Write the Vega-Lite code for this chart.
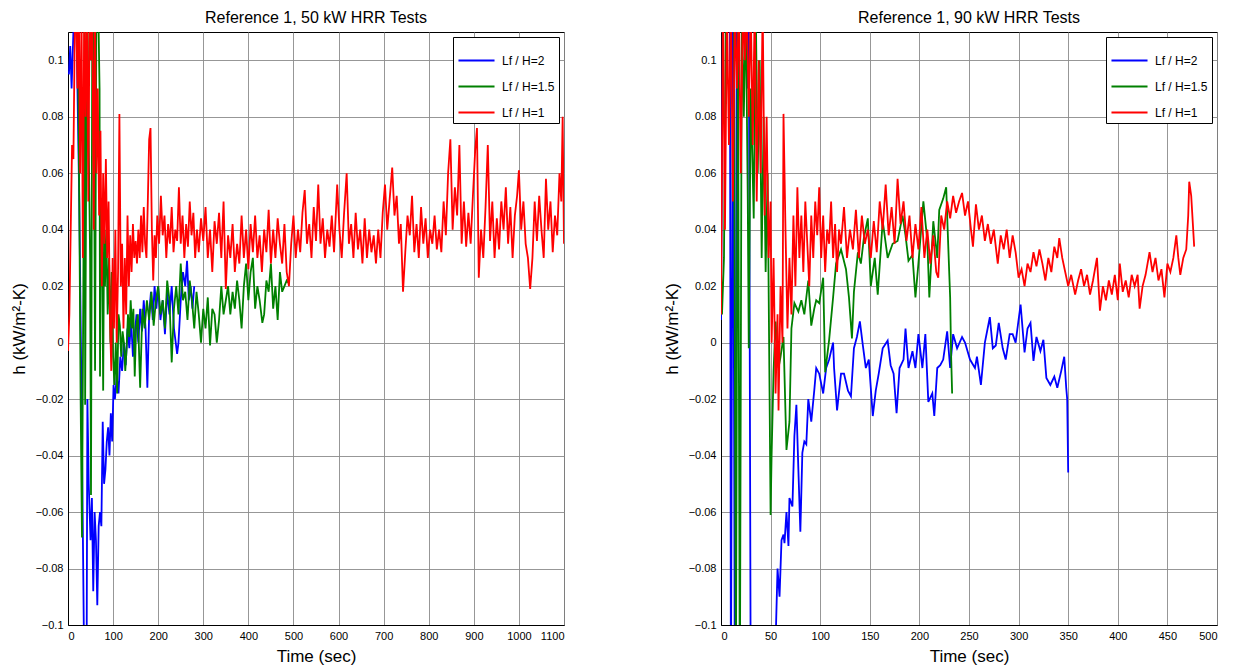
{
"$schema":"https://vega.github.io/schema/vega-lite/v6.json",
"padding":{"left":9,"top":9,"right":5,"bottom":5},
"background":"white",
"config":{
"font":"Liberation Sans",
"view":{"stroke":"black","strokeWidth":1},
"axis":{"domainColor":"black","gridColor":"#8c8c8c","gridOpacity":0.9,"labelColor":"black","titleColor":"black","labelFontSize":11,"titleFontSize":17,"titleFontWeight":"normal","tickSize":0,"labelPadding":5,"titlePadding":7},
"title":{"fontSize":16,"fontWeight":"normal","color":"black","offset":6},
"legend":{"orient":"top-right","offset":5,"fillColor":"white","strokeColor":"black","padding":4,"symbolType":"stroke","symbolSize":1300,"symbolStrokeWidth":2,"labelFontSize":12,"labelColor":"black","rowPadding":-24,"labelOffset":6,"title":null}
},
"datasets":{
"left":[
{"H":"2","t":2,"h":0.095},{"H":"2","t":5,"h":0.105},{"H":"2","t":8,"h":0.09},{"H":"2","t":12,"h":0.11},{"H":"2","t":18,"h":0.12},{"H":"2","t":25,"h":0.05},{"H":"2","t":30,"h":-0.02},{"H":"2","t":35,"h":-0.1},{"H":"2","t":38,"h":-0.13},{"H":"2","t":41,"h":-0.13},{"H":"2","t":43,"h":-0.02},{"H":"2","t":46,"h":-0.05},{"H":"2","t":50,"h":-0.07},{"H":"2","t":53,"h":-0.055},{"H":"2","t":56,"h":-0.088},{"H":"2","t":59,"h":-0.06},{"H":"2","t":62,"h":-0.07},{"H":"2","t":65,"h":-0.093},{"H":"2","t":68,"h":-0.065},{"H":"2","t":71,"h":-0.06},{"H":"2","t":74,"h":-0.065},{"H":"2","t":77,"h":-0.028},{"H":"2","t":80,"h":-0.05},{"H":"2","t":83,"h":-0.045},{"H":"2","t":86,"h":-0.035},{"H":"2","t":89,"h":-0.03},{"H":"2","t":92,"h":-0.04},{"H":"2","t":95,"h":-0.025},{"H":"2","t":98,"h":-0.035},{"H":"2","t":101,"h":-0.015},{"H":"2","t":104,"h":-0.02},{"H":"2","t":108,"h":-0.012},{"H":"2","t":112,"h":-0.018},{"H":"2","t":116,"h":-0.005},{"H":"2","t":120,"h":-0.01},{"H":"2","t":124,"h":0.0},{"H":"2","t":128,"h":-0.008},{"H":"2","t":132,"h":0.005},{"H":"2","t":136,"h":-0.002},{"H":"2","t":140,"h":0.008},{"H":"2","t":144,"h":-0.005},{"H":"2","t":148,"h":0.003},{"H":"2","t":152,"h":0.01},{"H":"2","t":156,"h":0.0},{"H":"2","t":160,"h":0.012},{"H":"2","t":164,"h":0.004},{"H":"2","t":168,"h":0.015},{"H":"2","t":172,"h":0.005},{"H":"2","t":176,"h":-0.016},{"H":"2","t":180,"h":0.01},{"H":"2","t":184,"h":0.018},{"H":"2","t":188,"h":0.008},{"H":"2","t":192,"h":0.02},{"H":"2","t":196,"h":0.012},{"H":"2","t":200,"h":0.02},{"H":"2","t":205,"h":0.008},{"H":"2","t":210,"h":0.015},{"H":"2","t":215,"h":0.003},{"H":"2","t":220,"h":0.018},{"H":"2","t":225,"h":0.01},{"H":"2","t":230,"h":0.02},{"H":"2","t":235,"h":0.005},{"H":"2","t":242,"h":-0.004},{"H":"2","t":245,"h":0.0},{"H":"2","t":250,"h":0.015},{"H":"2","t":255,"h":0.025},{"H":"2","t":260,"h":0.02},{"H":"2","t":264,"h":0.029},{"H":"2","t":268,"h":0.015},{"H":"2","t":272,"h":0.02},{"H":"2","t":276,"h":0.012},{"H":"2","t":280,"h":0.02},
{"H":"1.5","t":22,"h":0.11},{"H":"1.5","t":25,"h":0.05},{"H":"1.5","t":28,"h":-0.02},{"H":"1.5","t":31,"h":-0.069},{"H":"1.5","t":34,"h":0.02},{"H":"1.5","t":37,"h":0.12},{"H":"1.5","t":38,"h":-0.022},{"H":"1.5","t":40,"h":0.05},{"H":"1.5","t":43,"h":0.12},{"H":"1.5","t":46,"h":0.07},{"H":"1.5","t":49,"h":0.03},{"H":"1.5","t":51,"h":-0.054},{"H":"1.5","t":54,"h":0.12},{"H":"1.5","t":57,"h":0.1},{"H":"1.5","t":60,"h":-0.01},{"H":"1.5","t":63,"h":0.12},{"H":"1.5","t":67,"h":0.12},{"H":"1.5","t":70,"h":0.09},{"H":"1.5","t":71,"h":-0.012},{"H":"1.5","t":73,"h":0.05},{"H":"1.5","t":76,"h":0.03},{"H":"1.5","t":78,"h":-0.017},{"H":"1.5","t":80,"h":0.04},{"H":"1.5","t":82,"h":0.02},{"H":"1.5","t":85,"h":0.04},{"H":"1.5","t":88,"h":0.01},{"H":"1.5","t":91,"h":0.03},{"H":"1.5","t":94,"h":0.0},{"H":"1.5","t":97,"h":0.025},{"H":"1.5","t":100,"h":-0.005},{"H":"1.5","t":103,"h":-0.015},{"H":"1.5","t":106,"h":0.0},{"H":"1.5","t":109,"h":-0.018},{"H":"1.5","t":112,"h":0.01},{"H":"1.5","t":115,"h":0.006},{"H":"1.5","t":118,"h":-0.005},{"H":"1.5","t":121,"h":0.004},{"H":"1.5","t":124,"h":0.0},{"H":"1.5","t":127,"h":-0.01},{"H":"1.5","t":130,"h":-0.002},{"H":"1.5","t":133,"h":0.01},{"H":"1.5","t":136,"h":0.002},{"H":"1.5","t":139,"h":0.015},{"H":"1.5","t":142,"h":0.005},{"H":"1.5","t":145,"h":0.012},{"H":"1.5","t":148,"h":-0.012},{"H":"1.5","t":151,"h":0.005},{"H":"1.5","t":155,"h":0.01},{"H":"1.5","t":160,"h":-0.016},{"H":"1.5","t":165,"h":0.012},{"H":"1.5","t":170,"h":0.005},{"H":"1.5","t":175,"h":0.015},{"H":"1.5","t":180,"h":0.008},{"H":"1.5","t":185,"h":0.018},{"H":"1.5","t":190,"h":0.006},{"H":"1.5","t":195,"h":0.015},{"H":"1.5","t":200,"h":0.02},{"H":"1.5","t":205,"h":0.01},{"H":"1.5","t":210,"h":0.015},{"H":"1.5","t":215,"h":0.005},{"H":"1.5","t":220,"h":0.022},{"H":"1.5","t":225,"h":0.015},{"H":"1.5","t":230,"h":-0.007},{"H":"1.5","t":235,"h":0.012},{"H":"1.5","t":240,"h":0.02},{"H":"1.5","t":245,"h":0.01},{"H":"1.5","t":250,"h":0.028},{"H":"1.5","t":255,"h":0.015},{"H":"1.5","t":260,"h":0.018},{"H":"1.5","t":265,"h":0.008},{"H":"1.5","t":270,"h":0.022},{"H":"1.5","t":275,"h":0.015},{"H":"1.5","t":280,"h":0.005},{"H":"1.5","t":285,"h":0.018},{"H":"1.5","t":290,"h":0.01},{"H":"1.5","t":295,"h":0.0},{"H":"1.5","t":300,"h":0.012},{"H":"1.5","t":305,"h":0.005},{"H":"1.5","t":310,"h":0.016},{"H":"1.5","t":315,"h":-0.001},{"H":"1.5","t":320,"h":0.012},{"H":"1.5","t":325,"h":0.01},{"H":"1.5","t":330,"h":0.0},{"H":"1.5","t":335,"h":0.008},{"H":"1.5","t":340,"h":0.02},{"H":"1.5","t":345,"h":0.01},{"H":"1.5","t":350,"h":0.015},{"H":"1.5","t":355,"h":0.02},{"H":"1.5","t":360,"h":0.01},{"H":"1.5","t":365,"h":0.018},{"H":"1.5","t":370,"h":0.012},{"H":"1.5","t":375,"h":0.022},{"H":"1.5","t":380,"h":0.015},{"H":"1.5","t":385,"h":0.005},{"H":"1.5","t":390,"h":0.02},{"H":"1.5","t":395,"h":0.028},{"H":"1.5","t":400,"h":0.015},{"H":"1.5","t":405,"h":0.025},{"H":"1.5","t":410,"h":0.03},{"H":"1.5","t":415,"h":0.012},{"H":"1.5","t":420,"h":0.02},{"H":"1.5","t":425,"h":0.015},{"H":"1.5","t":431,"h":0.007},{"H":"1.5","t":435,"h":0.01},{"H":"1.5","t":440,"h":0.022},{"H":"1.5","t":445,"h":0.018},{"H":"1.5","t":450,"h":0.028},{"H":"1.5","t":455,"h":0.012},{"H":"1.5","t":460,"h":0.02},{"H":"1.5","t":465,"h":0.008},{"H":"1.5","t":470,"h":0.025},{"H":"1.5","t":475,"h":0.018},{"H":"1.5","t":480,"h":0.02},{"H":"1.5","t":485,"h":0.022},{"H":"1.5","t":490,"h":0.021},
{"H":"1","t":0,"h":-0.003},{"H":"1","t":3,"h":0.01},{"H":"1","t":6,"h":0.04},{"H":"1","t":9,"h":0.07},{"H":"1","t":12,"h":0.065},{"H":"1","t":15,"h":0.11},{"H":"1","t":18,"h":0.12},{"H":"1","t":21,"h":0.09},{"H":"1","t":24,"h":0.12},{"H":"1","t":27,"h":0.06},{"H":"1","t":30,"h":0.12},{"H":"1","t":33,"h":0.03},{"H":"1","t":36,"h":0.12},{"H":"1","t":39,"h":0.08},{"H":"1","t":42,"h":0.12},{"H":"1","t":45,"h":0.05},{"H":"1","t":48,"h":0.12},{"H":"1","t":51,"h":0.1},{"H":"1","t":54,"h":0.12},{"H":"1","t":57,"h":0.04},{"H":"1","t":60,"h":0.115},{"H":"1","t":63,"h":0.06},{"H":"1","t":66,"h":0.09},{"H":"1","t":69,"h":0.045},{"H":"1","t":72,"h":0.075},{"H":"1","t":75,"h":0.02},{"H":"1","t":78,"h":0.06},{"H":"1","t":81,"h":0.035},{"H":"1","t":84,"h":0.065},{"H":"1","t":87,"h":0.03},{"H":"1","t":90,"h":0.05},{"H":"1","t":93,"h":0.01},{"H":"1","t":96,"h":-0.01},{"H":"1","t":99,"h":0.03},{"H":"1","t":102,"h":0.005},{"H":"1","t":105,"h":0.04},{"H":"1","t":108,"h":0.0},{"H":"1","t":111,"h":0.025},{"H":"1","t":114,"h":0.081},{"H":"1","t":117,"h":0.02},{"H":"1","t":120,"h":0.035},{"H":"1","t":123,"h":0.005},{"H":"1","t":126,"h":0.03},{"H":"1","t":129,"h":0.01},{"H":"1","t":132,"h":0.045},{"H":"1","t":135,"h":0.02},{"H":"1","t":138,"h":0.038},{"H":"1","t":141,"h":0.025},{"H":"1","t":144,"h":0.042},{"H":"1","t":147,"h":0.03},{"H":"1","t":150,"h":0.036},{"H":"1","t":153,"h":0.028},{"H":"1","t":156,"h":0.04},{"H":"1","t":159,"h":0.03},{"H":"1","t":162,"h":0.045},{"H":"1","t":165,"h":0.032},{"H":"1","t":168,"h":0.048},{"H":"1","t":171,"h":0.035},{"H":"1","t":174,"h":0.03},{"H":"1","t":177,"h":0.05},{"H":"1","t":180,"h":0.072},{"H":"1","t":183,"h":0.076},{"H":"1","t":186,"h":0.04},{"H":"1","t":189,"h":0.022},{"H":"1","t":192,"h":0.038},{"H":"1","t":195,"h":0.03},{"H":"1","t":198,"h":0.045},{"H":"1","t":202,"h":0.035},{"H":"1","t":206,"h":0.052},{"H":"1","t":210,"h":0.038},{"H":"1","t":214,"h":0.045},{"H":"1","t":218,"h":0.03},{"H":"1","t":222,"h":0.042},{"H":"1","t":226,"h":0.035},{"H":"1","t":230,"h":0.048},{"H":"1","t":234,"h":0.032},{"H":"1","t":238,"h":0.04},{"H":"1","t":242,"h":0.036},{"H":"1","t":246,"h":0.055},{"H":"1","t":250,"h":0.035},{"H":"1","t":254,"h":0.045},{"H":"1","t":258,"h":0.03},{"H":"1","t":262,"h":0.042},{"H":"1","t":266,"h":0.034},{"H":"1","t":270,"h":0.05},{"H":"1","t":274,"h":0.038},{"H":"1","t":278,"h":0.046},{"H":"1","t":282,"h":0.03},{"H":"1","t":286,"h":0.04},{"H":"1","t":290,"h":0.032},{"H":"1","t":295,"h":0.044},{"H":"1","t":300,"h":0.036},{"H":"1","t":305,"h":0.048},{"H":"1","t":310,"h":0.03},{"H":"1","t":315,"h":0.04},{"H":"1","t":320,"h":0.025},{"H":"1","t":325,"h":0.043},{"H":"1","t":330,"h":0.035},{"H":"1","t":335,"h":0.046},{"H":"1","t":340,"h":0.03},{"H":"1","t":345,"h":0.05},{"H":"1","t":350,"h":0.019},{"H":"1","t":355,"h":0.038},{"H":"1","t":360,"h":0.03},{"H":"1","t":365,"h":0.042},{"H":"1","t":370,"h":0.025},{"H":"1","t":375,"h":0.035},{"H":"1","t":380,"h":0.028},{"H":"1","t":385,"h":0.045},{"H":"1","t":390,"h":0.03},{"H":"1","t":395,"h":0.04},{"H":"1","t":400,"h":0.026},{"H":"1","t":405,"h":0.042},{"H":"1","t":410,"h":0.032},{"H":"1","t":415,"h":0.045},{"H":"1","t":420,"h":0.03},{"H":"1","t":425,"h":0.038},{"H":"1","t":430,"h":0.025},{"H":"1","t":435,"h":0.04},{"H":"1","t":440,"h":0.032},{"H":"1","t":445,"h":0.047},{"H":"1","t":450,"h":0.028},{"H":"1","t":455,"h":0.04},{"H":"1","t":460,"h":0.03},{"H":"1","t":465,"h":0.044},{"H":"1","t":470,"h":0.035},{"H":"1","t":475,"h":0.028},{"H":"1","t":480,"h":0.042},{"H":"1","t":485,"h":0.025},{"H":"1","t":490,"h":0.02},{"H":"1","t":495,"h":0.035},{"H":"1","t":500,"h":0.045},{"H":"1","t":505,"h":0.03},{"H":"1","t":510,"h":0.04},{"H":"1","t":515,"h":0.032},{"H":"1","t":520,"h":0.046},{"H":"1","t":525,"h":0.054},{"H":"1","t":530,"h":0.035},{"H":"1","t":535,"h":0.042},{"H":"1","t":540,"h":0.03},{"H":"1","t":545,"h":0.048},{"H":"1","t":550,"h":0.036},{"H":"1","t":555,"h":0.056},{"H":"1","t":560,"h":0.035},{"H":"1","t":565,"h":0.044},{"H":"1","t":570,"h":0.03},{"H":"1","t":575,"h":0.04},{"H":"1","t":580,"h":0.034},{"H":"1","t":585,"h":0.045},{"H":"1","t":590,"h":0.032},{"H":"1","t":597,"h":0.056},{"H":"1","t":602,"h":0.04},{"H":"1","t":607,"h":0.03},{"H":"1","t":612,"h":0.045},{"H":"1","t":618,"h":0.06},{"H":"1","t":623,"h":0.035},{"H":"1","t":628,"h":0.042},{"H":"1","t":633,"h":0.03},{"H":"1","t":638,"h":0.046},{"H":"1","t":643,"h":0.033},{"H":"1","t":648,"h":0.04},{"H":"1","t":653,"h":0.028},{"H":"1","t":658,"h":0.044},{"H":"1","t":663,"h":0.03},{"H":"1","t":668,"h":0.04},{"H":"1","t":673,"h":0.032},{"H":"1","t":678,"h":0.038},{"H":"1","t":683,"h":0.028},{"H":"1","t":688,"h":0.04},{"H":"1","t":693,"h":0.03},{"H":"1","t":698,"h":0.046},{"H":"1","t":703,"h":0.056},{"H":"1","t":708,"h":0.04},{"H":"1","t":713,"h":0.05},{"H":"1","t":719,"h":0.062},{"H":"1","t":724,"h":0.045},{"H":"1","t":729,"h":0.052},{"H":"1","t":734,"h":0.035},{"H":"1","t":738,"h":0.042},{"H":"1","t":743,"h":0.018},{"H":"1","t":748,"h":0.032},{"H":"1","t":753,"h":0.045},{"H":"1","t":758,"h":0.038},{"H":"1","t":763,"h":0.052},{"H":"1","t":768,"h":0.032},{"H":"1","t":773,"h":0.042},{"H":"1","t":778,"h":0.03},{"H":"1","t":783,"h":0.048},{"H":"1","t":788,"h":0.035},{"H":"1","t":793,"h":0.044},{"H":"1","t":798,"h":0.03},{"H":"1","t":803,"h":0.04},{"H":"1","t":808,"h":0.035},{"H":"1","t":813,"h":0.045},{"H":"1","t":818,"h":0.033},{"H":"1","t":823,"h":0.04},{"H":"1","t":828,"h":0.032},{"H":"1","t":833,"h":0.05},{"H":"1","t":838,"h":0.038},{"H":"1","t":843,"h":0.06},{"H":"1","t":848,"h":0.072},{"H":"1","t":853,"h":0.04},{"H":"1","t":858,"h":0.055},{"H":"1","t":863,"h":0.045},{"H":"1","t":868,"h":0.07},{"H":"1","t":873,"h":0.035},{"H":"1","t":878,"h":0.05},{"H":"1","t":883,"h":0.034},{"H":"1","t":888,"h":0.046},{"H":"1","t":893,"h":0.035},{"H":"1","t":898,"h":0.052},{"H":"1","t":903,"h":0.068},{"H":"1","t":907,"h":0.076},{"H":"1","t":911,"h":0.023},{"H":"1","t":916,"h":0.04},{"H":"1","t":921,"h":0.03},{"H":"1","t":926,"h":0.048},{"H":"1","t":931,"h":0.07},{"H":"1","t":936,"h":0.036},{"H":"1","t":941,"h":0.05},{"H":"1","t":946,"h":0.03},{"H":"1","t":951,"h":0.044},{"H":"1","t":956,"h":0.033},{"H":"1","t":961,"h":0.05},{"H":"1","t":966,"h":0.04},{"H":"1","t":971,"h":0.055},{"H":"1","t":976,"h":0.035},{"H":"1","t":981,"h":0.048},{"H":"1","t":986,"h":0.03},{"H":"1","t":991,"h":0.045},{"H":"1","t":996,"h":0.052},{"H":"1","t":1000,"h":0.061},{"H":"1","t":1005,"h":0.04},{"H":"1","t":1010,"h":0.05},{"H":"1","t":1015,"h":0.035},{"H":"1","t":1020,"h":0.03},{"H":"1","t":1025,"h":0.019},{"H":"1","t":1030,"h":0.03},{"H":"1","t":1035,"h":0.05},{"H":"1","t":1040,"h":0.036},{"H":"1","t":1045,"h":0.052},{"H":"1","t":1050,"h":0.04},{"H":"1","t":1055,"h":0.03},{"H":"1","t":1060,"h":0.058},{"H":"1","t":1065,"h":0.04},{"H":"1","t":1070,"h":0.05},{"H":"1","t":1075,"h":0.032},{"H":"1","t":1080,"h":0.045},{"H":"1","t":1085,"h":0.038},{"H":"1","t":1090,"h":0.06},{"H":"1","t":1094,"h":0.05},{"H":"1","t":1097,"h":0.08},{"H":"1","t":1100,"h":0.035}
],
"right":[
{"H":"2","t":0,"h":0.008},{"H":"2","t":2,"h":0.12},{"H":"2","t":9,"h":0.12},{"H":"2","t":10,"h":-0.13},{"H":"2","t":12,"h":0.12},{"H":"2","t":14,"h":-0.13},{"H":"2","t":16,"h":0.12},{"H":"2","t":26,"h":0.12},{"H":"2","t":27,"h":0.09},{"H":"2","t":28,"h":0.12},{"H":"2","t":30,"h":-0.13},{"H":"2","t":55,"h":-0.13},{"H":"2","t":55.5,"h":-0.1},{"H":"2","t":57,"h":-0.08},{"H":"2","t":59,"h":-0.09},{"H":"2","t":61,"h":-0.07},{"H":"2","t":63,"h":-0.068},{"H":"2","t":64,"h":-0.071},{"H":"2","t":66,"h":-0.06},{"H":"2","t":68,"h":-0.072},{"H":"2","t":69,"h":-0.055},{"H":"2","t":72,"h":-0.058},{"H":"2","t":74,"h":-0.033},{"H":"2","t":76,"h":-0.022},{"H":"2","t":78,"h":-0.045},{"H":"2","t":80,"h":-0.067},{"H":"2","t":82,"h":-0.039},{"H":"2","t":84,"h":-0.035},{"H":"2","t":86,"h":-0.036},{"H":"2","t":88,"h":-0.02},{"H":"2","t":91,"h":-0.028},{"H":"2","t":94,"h":-0.017},{"H":"2","t":96,"h":-0.009},{"H":"2","t":99,"h":-0.011},{"H":"2","t":103,"h":-0.018},{"H":"2","t":106,"h":-0.009},{"H":"2","t":109,"h":-0.006},{"H":"2","t":113,"h":0.0},{"H":"2","t":114,"h":-0.009},{"H":"2","t":117,"h":-0.024},{"H":"2","t":121,"h":-0.011},{"H":"2","t":124,"h":-0.011},{"H":"2","t":128,"h":-0.017},{"H":"2","t":131,"h":-0.019},{"H":"2","t":134,"h":-0.002},{"H":"2","t":137,"h":0.002},{"H":"2","t":140,"h":0.0075},{"H":"2","t":143,"h":-0.001},{"H":"2","t":146,"h":-0.009},{"H":"2","t":149,"h":-0.006},{"H":"2","t":153,"h":-0.026},{"H":"2","t":156,"h":-0.017},{"H":"2","t":159,"h":-0.011},{"H":"2","t":163,"h":-0.002},{"H":"2","t":168,"h":0.0007},{"H":"2","t":171,"h":-0.008},{"H":"2","t":174,"h":-0.011},{"H":"2","t":177,"h":-0.025},{"H":"2","t":180,"h":-0.009},{"H":"2","t":184,"h":-0.006},{"H":"2","t":186,"h":0.005},{"H":"2","t":189,"h":-0.009},{"H":"2","t":193,"h":-0.003},{"H":"2","t":196,"h":-0.009},{"H":"2","t":199,"h":0.003},{"H":"2","t":203,"h":-0.009},{"H":"2","t":206,"h":0.003},{"H":"2","t":209,"h":-0.021},{"H":"2","t":213,"h":-0.018},{"H":"2","t":215,"h":-0.026},{"H":"2","t":218,"h":-0.009},{"H":"2","t":221,"h":-0.008},{"H":"2","t":224,"h":-0.006},{"H":"2","t":228,"h":0.004},{"H":"2","t":231,"h":-0.009},{"H":"2","t":234,"h":0.003},{"H":"2","t":238,"h":-0.002},{"H":"2","t":243,"h":0.002},{"H":"2","t":246,"h":0.0},{"H":"2","t":251,"h":-0.006},{"H":"2","t":256,"h":-0.009},{"H":"2","t":258,"h":-0.005},{"H":"2","t":262,"h":-0.015},{"H":"2","t":266,"h":0.0},{"H":"2","t":271,"h":0.009},{"H":"2","t":274,"h":-0.002},{"H":"2","t":277,"h":-0.001},{"H":"2","t":280,"h":0.007},{"H":"2","t":284,"h":-0.002},{"H":"2","t":287,"h":-0.006},{"H":"2","t":291,"h":0.003},{"H":"2","t":294,"h":0.003},{"H":"2","t":297,"h":0.0},{"H":"2","t":302,"h":0.0135},{"H":"2","t":306,"h":-0.0035},{"H":"2","t":309,"h":0.005},{"H":"2","t":312,"h":0.007},{"H":"2","t":315,"h":-0.0065},{"H":"2","t":318,"h":0.002},{"H":"2","t":322,"h":-0.003},{"H":"2","t":325,"h":0.001},{"H":"2","t":328,"h":-0.0125},{"H":"2","t":332,"h":-0.015},{"H":"2","t":336,"h":-0.012},{"H":"2","t":339,"h":-0.016},{"H":"2","t":343,"h":-0.01},{"H":"2","t":346,"h":-0.005},{"H":"2","t":348,"h":-0.016},{"H":"2","t":349,"h":-0.02},{"H":"2","t":350,"h":-0.046},
{"H":"1.5","t":0,"h":0.026},{"H":"1.5","t":1,"h":0.01},{"H":"1.5","t":3,"h":0.03},{"H":"1.5","t":5,"h":0.12},{"H":"1.5","t":13,"h":0.12},{"H":"1.5","t":15,"h":-0.13},{"H":"1.5","t":17,"h":0.12},{"H":"1.5","t":19,"h":-0.13},{"H":"1.5","t":21,"h":0.12},{"H":"1.5","t":23,"h":0.08},{"H":"1.5","t":25,"h":0.12},{"H":"1.5","t":27,"h":0.05},{"H":"1.5","t":28,"h":-0.002},{"H":"1.5","t":30,"h":0.09},{"H":"1.5","t":33,"h":0.044},{"H":"1.5","t":35,"h":0.12},{"H":"1.5","t":37,"h":0.06},{"H":"1.5","t":39,"h":0.1},{"H":"1.5","t":41,"h":0.03},{"H":"1.5","t":43,"h":0.08},{"H":"1.5","t":45,"h":0.025},{"H":"1.5","t":47,"h":0.06},{"H":"1.5","t":48,"h":0.02},{"H":"1.5","t":49,"h":-0.02},{"H":"1.5","t":50,"h":-0.061},{"H":"1.5","t":51,"h":-0.04},{"H":"1.5","t":53,"h":-0.01},{"H":"1.5","t":55,"h":0.0075},{"H":"1.5","t":58,"h":-0.009},{"H":"1.5","t":60,"h":-0.005},{"H":"1.5","t":63,"h":0.002},{"H":"1.5","t":66,"h":-0.038},{"H":"1.5","t":69,"h":-0.028},{"H":"1.5","t":71,"h":0.005},{"H":"1.5","t":74,"h":0.014},{"H":"1.5","t":78,"h":0.011},{"H":"1.5","t":81,"h":0.015},{"H":"1.5","t":84,"h":0.01},{"H":"1.5","t":88,"h":0.022},{"H":"1.5","t":91,"h":0.006},{"H":"1.5","t":94,"h":0.012},{"H":"1.5","t":96,"h":0.015},{"H":"1.5","t":99,"h":0.014},{"H":"1.5","t":103,"h":0.023},{"H":"1.5","t":105,"h":-0.0105},{"H":"1.5","t":109,"h":0.001},{"H":"1.5","t":113,"h":0.016},{"H":"1.5","t":116,"h":0.028},{"H":"1.5","t":121,"h":0.033},{"H":"1.5","t":126,"h":0.026},{"H":"1.5","t":129,"h":0.016},{"H":"1.5","t":132,"h":0.0015},{"H":"1.5","t":134,"h":0.018},{"H":"1.5","t":138,"h":0.032},{"H":"1.5","t":141,"h":0.028},{"H":"1.5","t":144,"h":0.037},{"H":"1.5","t":148,"h":0.044},{"H":"1.5","t":151,"h":0.02},{"H":"1.5","t":155,"h":0.03},{"H":"1.5","t":158,"h":0.017},{"H":"1.5","t":163,"h":0.043},{"H":"1.5","t":168,"h":0.03},{"H":"1.5","t":173,"h":0.035},{"H":"1.5","t":178,"h":0.036},{"H":"1.5","t":183,"h":0.045},{"H":"1.5","t":186,"h":0.038},{"H":"1.5","t":189,"h":0.029},{"H":"1.5","t":193,"h":0.031},{"H":"1.5","t":196,"h":0.016},{"H":"1.5","t":199,"h":0.028},{"H":"1.5","t":204,"h":0.05},{"H":"1.5","t":208,"h":0.036},{"H":"1.5","t":210,"h":0.016},{"H":"1.5","t":214,"h":0.043},{"H":"1.5","t":218,"h":0.03},{"H":"1.5","t":220,"h":0.047},{"H":"1.5","t":224,"h":0.051},{"H":"1.5","t":227,"h":0.055},{"H":"1.5","t":229,"h":0.035},{"H":"1.5","t":231,"h":0.016},{"H":"1.5","t":232,"h":-0.005},{"H":"1.5","t":233,"h":-0.018},
{"H":"1","t":0,"h":0.01},{"H":"1","t":2,"h":0.12},{"H":"1","t":4,"h":0.04},{"H":"1","t":6,"h":0.12},{"H":"1","t":8,"h":0.07},{"H":"1","t":10,"h":0.12},{"H":"1","t":12,"h":0.05},{"H":"1","t":14,"h":0.12},{"H":"1","t":16,"h":0.09},{"H":"1","t":18,"h":0.12},{"H":"1","t":20,"h":0.06},{"H":"1","t":22,"h":0.12},{"H":"1","t":24,"h":0.1},{"H":"1","t":26,"h":0.12},{"H":"1","t":28,"h":0.08},{"H":"1","t":30,"h":0.12},{"H":"1","t":32,"h":0.07},{"H":"1","t":34,"h":0.12},{"H":"1","t":36,"h":0.05},{"H":"1","t":38,"h":0.1},{"H":"1","t":40,"h":0.06},{"H":"1","t":42,"h":0.12},{"H":"1","t":44,"h":0.045},{"H":"1","t":46,"h":0.08},{"H":"1","t":48,"h":0.03},{"H":"1","t":50,"h":0.05},{"H":"1","t":51,"h":0.0},{"H":"1","t":53,"h":0.03},{"H":"1","t":55,"h":-0.018},{"H":"1","t":57,"h":0.01},{"H":"1","t":58,"h":-0.024},{"H":"1","t":60,"h":0.02},{"H":"1","t":62,"h":0.0},{"H":"1","t":63,"h":0.081},{"H":"1","t":65,"h":0.04},{"H":"1","t":67,"h":0.005},{"H":"1","t":69,"h":0.03},{"H":"1","t":71,"h":0.01},{"H":"1","t":73,"h":0.045},{"H":"1","t":75,"h":0.02},{"H":"1","t":77,"h":0.055},{"H":"1","t":79,"h":0.03},{"H":"1","t":81,"h":0.045},{"H":"1","t":83,"h":0.025},{"H":"1","t":85,"h":0.05},{"H":"1","t":87,"h":0.035},{"H":"1","t":89,"h":0.02},{"H":"1","t":91,"h":0.045},{"H":"1","t":93,"h":0.03},{"H":"1","t":95,"h":0.05},{"H":"1","t":97,"h":0.038},{"H":"1","t":99,"h":0.055},{"H":"1","t":101,"h":0.03},{"H":"1","t":103,"h":0.045},{"H":"1","t":105,"h":0.025},{"H":"1","t":107,"h":0.04},{"H":"1","t":109,"h":0.035},{"H":"1","t":111,"h":0.05},{"H":"1","t":113,"h":0.03},{"H":"1","t":115,"h":0.042},{"H":"1","t":117,"h":0.025},{"H":"1","t":119,"h":0.04},{"H":"1","t":121,"h":0.035},{"H":"1","t":124,"h":0.048},{"H":"1","t":127,"h":0.03},{"H":"1","t":130,"h":0.04},{"H":"1","t":133,"h":0.033},{"H":"1","t":136,"h":0.047},{"H":"1","t":139,"h":0.03},{"H":"1","t":142,"h":0.045},{"H":"1","t":145,"h":0.035},{"H":"1","t":148,"h":0.04},{"H":"1","t":151,"h":0.03},{"H":"1","t":154,"h":0.043},{"H":"1","t":157,"h":0.032},{"H":"1","t":160,"h":0.05},{"H":"1","t":163,"h":0.04},{"H":"1","t":166,"h":0.056},{"H":"1","t":169,"h":0.038},{"H":"1","t":172,"h":0.048},{"H":"1","t":175,"h":0.035},{"H":"1","t":178,"h":0.058},{"H":"1","t":181,"h":0.042},{"H":"1","t":184,"h":0.05},{"H":"1","t":187,"h":0.036},{"H":"1","t":190,"h":0.045},{"H":"1","t":193,"h":0.03},{"H":"1","t":196,"h":0.042},{"H":"1","t":199,"h":0.033},{"H":"1","t":202,"h":0.048},{"H":"1","t":205,"h":0.03},{"H":"1","t":208,"h":0.04},{"H":"1","t":211,"h":0.028},{"H":"1","t":214,"h":0.038},{"H":"1","t":217,"h":0.025},{"H":"1","t":219,"h":0.023},{"H":"1","t":222,"h":0.045},{"H":"1","t":225,"h":0.04},{"H":"1","t":228,"h":0.05},{"H":"1","t":231,"h":0.044},{"H":"1","t":234,"h":0.052},{"H":"1","t":237,"h":0.046},{"H":"1","t":240,"h":0.05},{"H":"1","t":243,"h":0.053},{"H":"1","t":246,"h":0.045},{"H":"1","t":249,"h":0.05},{"H":"1","t":252,"h":0.04},{"H":"1","t":254,"h":0.034},{"H":"1","t":257,"h":0.049},{"H":"1","t":260,"h":0.04},{"H":"1","t":263,"h":0.045},{"H":"1","t":266,"h":0.036},{"H":"1","t":269,"h":0.042},{"H":"1","t":272,"h":0.035},{"H":"1","t":275,"h":0.04},{"H":"1","t":279,"h":0.028},{"H":"1","t":282,"h":0.038},{"H":"1","t":285,"h":0.033},{"H":"1","t":288,"h":0.04},{"H":"1","t":291,"h":0.03},{"H":"1","t":294,"h":0.038},{"H":"1","t":297,"h":0.032},{"H":"1","t":300,"h":0.023},{"H":"1","t":303,"h":0.026},{"H":"1","t":306,"h":0.02},{"H":"1","t":309,"h":0.028},{"H":"1","t":312,"h":0.025},{"H":"1","t":315,"h":0.032},{"H":"1","t":318,"h":0.027},{"H":"1","t":321,"h":0.033},{"H":"1","t":324,"h":0.028},{"H":"1","t":327,"h":0.022},{"H":"1","t":330,"h":0.03},{"H":"1","t":333,"h":0.025},{"H":"1","t":336,"h":0.034},{"H":"1","t":339,"h":0.03},{"H":"1","t":341,"h":0.037},{"H":"1","t":344,"h":0.03},{"H":"1","t":347,"h":0.025},{"H":"1","t":350,"h":0.02},{"H":"1","t":353,"h":0.024},{"H":"1","t":357,"h":0.017},{"H":"1","t":360,"h":0.022},{"H":"1","t":363,"h":0.026},{"H":"1","t":366,"h":0.02},{"H":"1","t":369,"h":0.024},{"H":"1","t":372,"h":0.017},{"H":"1","t":375,"h":0.022},{"H":"1","t":379,"h":0.03},{"H":"1","t":382,"h":0.0113},{"H":"1","t":385,"h":0.02},{"H":"1","t":388,"h":0.015},{"H":"1","t":391,"h":0.022},{"H":"1","t":394,"h":0.017},{"H":"1","t":397,"h":0.024},{"H":"1","t":400,"h":0.015},{"H":"1","t":402,"h":0.028},{"H":"1","t":405,"h":0.018},{"H":"1","t":408,"h":0.022},{"H":"1","t":411,"h":0.016},{"H":"1","t":414,"h":0.024},{"H":"1","t":417,"h":0.02},{"H":"1","t":420,"h":0.024},{"H":"1","t":422,"h":0.012},{"H":"1","t":425,"h":0.02},{"H":"1","t":428,"h":0.024},{"H":"1","t":432,"h":0.032},{"H":"1","t":435,"h":0.025},{"H":"1","t":438,"h":0.03},{"H":"1","t":441,"h":0.022},{"H":"1","t":444,"h":0.026},{"H":"1","t":447,"h":0.016},{"H":"1","t":450,"h":0.028},{"H":"1","t":453,"h":0.025},{"H":"1","t":456,"h":0.03},{"H":"1","t":459,"h":0.038},{"H":"1","t":461,"h":0.03},{"H":"1","t":463,"h":0.024},{"H":"1","t":466,"h":0.03},{"H":"1","t":469,"h":0.033},{"H":"1","t":471,"h":0.045},{"H":"1","t":472,"h":0.057},{"H":"1","t":474,"h":0.052},{"H":"1","t":476,"h":0.04},{"H":"1","t":477,"h":0.034}
]
},
"hconcat":[
{
"title":"Reference 1, 50 kW HRR Tests",
"width":496,"height":593,
"data":{"name":"left"},
"encoding":{
"x":{"field":"t","type":"quantitative","scale":{"domain":[0,1100],"nice":false,"zero":false},"axis":{"values":[0,100,200,300,400,500,600,700,800,900,1000,1100],"format":"d","title":"Time (sec)"}},
"y":{"field":"h","type":"quantitative","scale":{"domain":[-0.1,0.11],"nice":false,"zero":false},"axis":{"values":[-0.1,-0.08,-0.06,-0.04,-0.02,0,0.02,0.04,0.06,0.08,0.1],"format":".2~f","title":"h (kW/m²-K)"}},
"color":{"field":"H","type":"nominal","scale":{"domain":["2","1.5","1"],"range":["#0000ff","#008000","#ff0000"]},"legend":{"labelExpr":"'Lf / H=' + datum.label"}}
},
"layer":[
{"transform":[{"filter":"datum.H === '2'"}],"mark":{"type":"line","clip":true,"strokeWidth":1.8}},
{"transform":[{"filter":"datum.H === '1.5'"}],"mark":{"type":"line","clip":true,"strokeWidth":1.8}},
{"transform":[{"filter":"datum.H === '1'"}],"mark":{"type":"line","clip":true,"strokeWidth":1.8}}
]
},
{
"title":"Reference 1, 90 kW HRR Tests",
"width":496,"height":593,
"data":{"name":"right"},
"encoding":{
"x":{"field":"t","type":"quantitative","scale":{"domain":[0,500],"nice":false,"zero":false},"axis":{"values":[0,50,100,150,200,250,300,350,400,450,500],"format":"d","title":"Time (sec)"}},
"y":{"field":"h","type":"quantitative","scale":{"domain":[-0.1,0.11],"nice":false,"zero":false},"axis":{"values":[-0.1,-0.08,-0.06,-0.04,-0.02,0,0.02,0.04,0.06,0.08,0.1],"format":".2~f","title":"h (kW/m²-K)"}},
"color":{"field":"H","type":"nominal","scale":{"domain":["2","1.5","1"],"range":["#0000ff","#008000","#ff0000"]},"legend":{"labelExpr":"'Lf / H=' + datum.label"}}
},
"layer":[
{"transform":[{"filter":"datum.H === '2'"}],"mark":{"type":"line","clip":true,"strokeWidth":1.8}},
{"transform":[{"filter":"datum.H === '1.5'"}],"mark":{"type":"line","clip":true,"strokeWidth":1.8}},
{"transform":[{"filter":"datum.H === '1'"}],"mark":{"type":"line","clip":true,"strokeWidth":1.8}}
]
}
],
"spacing":97,
"resolve":{"scale":{"color":"independent","x":"independent","y":"independent"},"legend":{"color":"independent"}}
}
